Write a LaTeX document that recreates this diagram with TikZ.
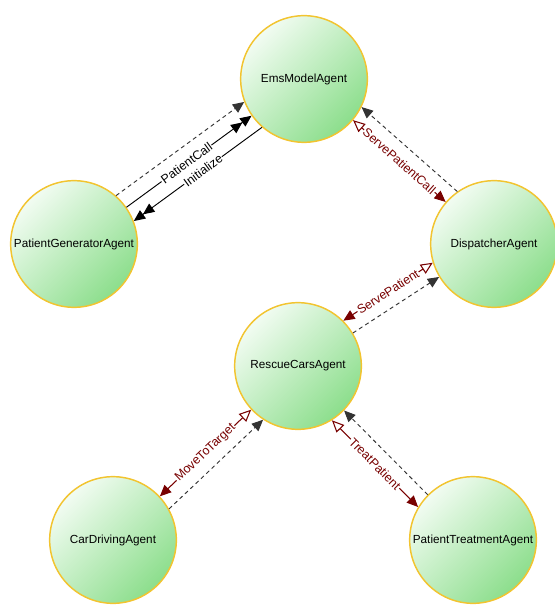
\documentclass[tikz,border=0pt]{standalone}
\usepackage{fontspec}
\setmainfont{Liberation Sans}
\usepackage{xcolor}
\usepackage{tikz}
\usetikzlibrary{arrows.meta}
\definecolor{agentfill}{RGB}{140,222,140}
\definecolor{agentlight}{RGB}{242,252,242}
\definecolor{agentborder}{RGB}{242,196,48}
\definecolor{msgred}{RGB}{120,0,0}
\tikzset{
  myagent/.style={
    draw=agentborder,
    shape=circle,
    line width=1.1pt,
    top color=agentlight,
    bottom color=agentfill,
    shading angle=45,
    minimum size=95pt,
    inner sep=0pt,
    align=center,
    font=\fontsize{8.8}{10}\selectfont
  },
  mycall/.style={
    draw=black,
    line width=0.7pt,
    -{Triangle[length=8.5pt,width=7.5pt]Triangle[length=8.5pt,width=7.5pt]},
  },
  myreply/.style={
    draw=black!80,
    line width=0.7pt,
    dash pattern=on 3pt off 2.5pt,
    -{Triangle[length=8.5pt,width=7.5pt]},
  },
  mymsg/.style={
    draw=msgred,
    line width=0.8pt,
    {Triangle[open,length=9pt,width=8pt]}-{Triangle[length=8.5pt,width=7.5pt]},
  },
  mylabel/.style={
    fill=white,
    inner sep=0.6pt,
    sloped,
    font=\fontsize{9.3}{10}\selectfont
  },
}

\begin{document}
\begin{tikzpicture}[x=0.75pt, y=-0.75pt]
    \useasboundingbox (0,0) rectangle (554,605);

    \node[myagent] (ems) at (304,79) {EmsModelAgent};
    \node[myagent] (generator) at (74,244) {PatientGeneratorAgent};
    \node[myagent] (dispatcher) at (494,244) {DispatcherAgent};
    \node[myagent] (rescue) at (298,366) {RescueCarsAgent};
    \node[myagent] (driving) at (113,540) {CarDrivingAgent};
    \node[myagent] (treatment) at (473,540) {PatientTreatmentAgent};

    % generator <-> ems model
    \draw[myreply] (generator.49.65) -- (ems.201.65);
    \draw[mycall] (generator.35.65) -- node[mylabel, pos=0.48] {PatientCall} (ems.215.65);
    \draw[mycall] (ems.229.65) -- node[mylabel, pos=0.46] {Initialize} (generator.21.65);

    % ems model <-> dispatcher
    \draw[mymsg] (ems.-40.97) -- node[mylabel, text=msgred, midway] {ServePatientCall} (dispatcher.139.03);
    \draw[myreply] (dispatcher.125.03) -- (ems.-26.97);

    % dispatcher <-> rescue cars
    \draw[mymsg] (dispatcher.197.9) -- node[mylabel, text=msgred, midway] {ServePatient} (rescue.45.9);
    \draw[myreply] (rescue.31.9) -- (dispatcher.211.9);

    % rescue cars <-> driving / treatment
    \draw[mymsg] (rescue.223.25) -- node[mylabel, text=msgred, midway] {MoveToTarget} (driving.43.25);
    \draw[myreply] (driving.29.25) -- (rescue.237.25);
    \draw[mymsg] (rescue.-58.8) -- node[mylabel, text=msgred, midway] {TreatPatient} (treatment.149.2);
    \draw[myreply] (treatment.135.2) -- (rescue.-44.8);
\end{tikzpicture}
\end{document}
